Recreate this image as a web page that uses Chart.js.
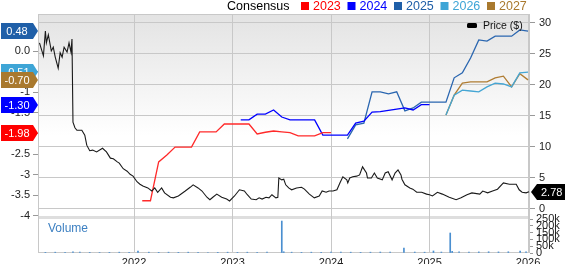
<!DOCTYPE html>
<html>
<head>
<meta charset="utf-8">
<script src="https://cdn.jsdelivr.net/npm/chart.js@4.4.1/dist/chart.umd.min.js"></script>
<style>
  html, body { margin: 0; padding: 0; background: #fff; }
  #wrap { width: 565px; height: 264px; }
</style>
</head>
<body>
<div id="wrap"><canvas id="chart" width="565" height="264"></canvas></div>
<script>
// tick labels
const yearTicks = [2022, 2023, 2024, 2025, 2026];
const epsTicks = [0, -0.5, -1, -1.5, -2, -2.5, -3, -3.5, -4];
const priceTicks = [0, 5, 10, 15, 20, 25, 30];
const volumeTicks = [0, 50000, 100000, 150000, 200000, 250000];

// consensus EPS estimates, one value per month from the start month
const eps2023Start = '2022-02';
const eps2023 = [-3.63, -3.63, -2.69, -2.52, -2.33, -2.33, -2.33, -1.96, -1.96, -1.96, -1.77, -1.77,
  -1.77, -1.77, -2.01, -1.97, -1.94, -1.96, -1.98, -2.06, -2.06, -2.06, -1.98, -1.98];
const eps2024Start = '2023-02';
const eps2024 = [-1.67, -1.67, -1.53, -1.53, -1.43, -1.60, -1.67, -1.67, -1.67, -1.67, -2.04, -2.04,
  -2.04, -2.04, -1.75, -1.70, -1.48, -1.47, -1.44, -1.41, -1.38, -1.43, -1.30, -1.30];
const eps2025Start = '2024-03';
const eps2025 = [-2.13, -1.79, -1.75, -0.99, -0.99, -1.04, -0.99, -1.45, -1.38, -1.24, -1.24, -1.24,
  -1.24, -0.65, -0.53, -0.17, 0.27, 0.24, 0.36, 0.36, 0.36, 0.51, 0.48];
const eps2026Start = '2025-03';
const eps2026 = [-1.55, -1.07, -0.95, -0.97, -0.99, -0.87, -0.78, -0.80, -0.87, -0.53, -0.51];
const eps2027Start = '2025-03';
const eps2027 = [-1.55, -1.07, -0.78, -0.75, -0.75, -0.75, -0.65, -0.61, -0.87, -0.55, -0.70];

// share price ($), time in decimal years
const priceTimes = [2021.04, 2021.08, 2021.10, 2021.11, 2021.13, 2021.16, 2021.18, 2021.20, 2021.23, 2021.25,
  2021.27, 2021.29, 2021.32, 2021.34, 2021.36, 2021.37, 2021.38, 2021.40, 2021.42, 2021.47,
  2021.50, 2021.52, 2021.55, 2021.58, 2021.62, 2021.68, 2021.72, 2021.76, 2021.79, 2021.83,
  2021.85, 2021.89, 2021.93, 2021.96, 2021.99, 2022.03, 2022.06, 2022.09, 2022.14, 2022.18,
  2022.21, 2022.24, 2022.28, 2022.31, 2022.37, 2022.40, 2022.45, 2022.52, 2022.57, 2022.60,
  2022.65, 2022.69, 2022.74, 2022.77, 2022.80, 2022.84, 2022.89, 2022.94, 2022.97, 2023.02,
  2023.07, 2023.12, 2023.15, 2023.19, 2023.24, 2023.27, 2023.30, 2023.34, 2023.37, 2023.40,
  2023.44, 2023.46, 2023.47, 2023.50, 2023.52, 2023.54, 2023.57, 2023.60, 2023.65, 2023.70,
  2023.73, 2023.78, 2023.83, 2023.88, 2023.91, 2023.95, 2023.98, 2024.02, 2024.06, 2024.09,
  2024.12, 2024.16, 2024.17, 2024.19, 2024.22, 2024.26, 2024.29, 2024.32, 2024.36, 2024.37,
  2024.41, 2024.44, 2024.47, 2024.52, 2024.55, 2024.58, 2024.62, 2024.65, 2024.68, 2024.71,
  2024.72, 2024.75, 2024.80, 2024.83, 2024.87, 2024.92, 2024.97, 2025.00, 2025.03, 2025.08,
  2025.13, 2025.20, 2025.27, 2025.32, 2025.38, 2025.43, 2025.51, 2025.54, 2025.59, 2025.64,
  2025.69, 2025.75, 2025.81, 2025.88, 2025.91, 2025.94, 2025.98, 2026.01];
const priceValues = [26.8, 24.7, 28.7, 26.8, 28.1, 25.5, 26.1, 24.5, 22.7, 25.2,
  24.5, 26.1, 25.3, 26.8, 25.3, 27.4, 14.0, 13.1, 12.7, 12.7,
  11.9, 10.3, 9.4, 9.5, 9.2, 9.8, 9.2, 8.2, 8.1, 7.6,
  7.4, 6.5, 6.1, 5.6, 5.3, 4.4, 4.0, 3.7, 3.4, 2.9,
  3.4, 2.7, 3.4, 2.6, 1.9, 1.8, 2.1, 2.9, 3.5, 3.9,
  3.4, 2.9, 1.9, 1.5, 1.9, 2.4, 1.9, 1.6, 1.3, 2.1,
  3.1, 2.9, 2.3, 1.6, 1.5, 1.8, 1.6, 1.9, 1.8, 2.3,
  1.8, 1.9, 5.0, 4.7, 4.8, 3.9, 3.4, 3.1, 3.4, 3.5,
  3.2, 2.4, 1.8, 2.1, 2.9, 2.7, 2.9, 2.9, 3.1, 4.2,
  5.2, 4.7, 4.2, 5.0, 5.2, 5.3, 5.5, 6.8, 5.8, 5.0,
  5.0, 5.8, 5.0, 4.7, 5.8, 6.0, 4.7, 5.8, 6.3, 5.5,
  4.8, 3.9, 3.4, 3.2, 2.7, 2.7, 2.4, 2.3, 2.1, 2.7,
  2.4, 1.9, 1.5, 1.8, 2.3, 2.6, 2.4, 2.9, 2.6, 2.9,
  3.2, 4.2, 4.0, 4.0, 3.1, 2.7, 2.6, 2.78];

// traded volume (shares)
const volumeTimes = [2021.10, 2021.20, 2021.30, 2021.38, 2021.45, 2021.55, 2021.65, 2021.75, 2021.85, 2021.95,
  2022.04, 2022.15, 2022.25, 2022.35, 2022.45, 2022.55, 2022.65, 2022.75, 2022.85, 2022.95,
  2023.05, 2023.15, 2023.25, 2023.35, 2023.50, 2023.52, 2023.60, 2023.70, 2023.80, 2023.90,
  2024.00, 2024.10, 2024.20, 2024.30, 2024.40, 2024.50, 2024.60, 2024.74, 2024.85, 2024.95,
  2025.04, 2025.12, 2025.21, 2025.23, 2025.30, 2025.40, 2025.50, 2025.60, 2025.70, 2025.80,
  2025.92, 2025.98];
const volumeValues = [5000, 6000, 5000, 9000, 6000, 5000, 4000, 5000, 6000, 5000,
  15000, 6000, 5000, 6000, 5000, 6000, 5000, 4000, 5000, 6000,
  5000, 6000, 5000, 6000, 235000, 9000, 6000, 5000, 6000, 5000,
  6000, 7000, 6000, 5000, 6000, 7000, 6000, 37000, 7000, 6000,
  15000, 7000, 147000, 12000, 8000, 7000, 8000, 9000, 8000, 9000,
  15000, 8000];

const font = '"Liberation Sans", Arial, sans-serif';

function monthSeries(start, values) {
    const [y, m] = start.split('-').map(Number);
    return values.map((v, i) => ({ x: y + (m - 1 + i) / 12, y: v }));
}

const consensus = [
    { label: '2023', start: eps2023Start, values: eps2023, color: '#ff2a2a', badge: '#ff0000' },
    { label: '2024', start: eps2024Start, values: eps2024, color: '#0000ff', badge: '#0000ff' },
    { label: '2025', start: eps2025Start, values: eps2025, color: '#2a66b0', badge: '#1f5fa8' },
    { label: '2026', start: eps2026Start, values: eps2026, color: '#45a6d4', badge: '#3ea5d6' },
    { label: '2027', start: eps2027Start, values: eps2027, color: '#b07d33', badge: '#a9792e' }
];

// panel backgrounds, frame
const panelsPlugin = {
    id: 'panels',
    beforeDraw(chart) {
        const { ctx, chartArea: a } = chart;
        const split = chart.scales.yVol.top;
        const g = ctx.createLinearGradient(0, a.top, 0, split);
        g.addColorStop(0, '#e3e3e3');
        g.addColorStop(0.6, '#ffffff');
        ctx.save();
        ctx.fillStyle = g;
        ctx.fillRect(a.left, a.top, a.right - a.left, split - a.top);
        ctx.fillStyle = '#dedede';
        ctx.fillRect(a.left, split - 1, a.right - a.left, 3);
        ctx.restore();
    },
    beforeDatasetsDraw(chart) {
        const { ctx, chartArea: a } = chart;
        ctx.save();
        ctx.strokeStyle = '#c8c8c8';
        ctx.lineWidth = 1;
        ctx.strokeRect(a.left + 0.5, a.top + 0.5, a.right - a.left - 1, a.bottom - a.top - 1);
        ctx.restore();
    }
};

// value badges, legend, panel label
const labelsPlugin = {
    id: 'labels',
    afterDraw(chart) {
        const { ctx, chartArea: a } = chart;
        const yEps = chart.scales.yEps;
        const yPrice = chart.scales.yPrice;
        ctx.save();
        ctx.font = '11px ' + font;
        ctx.textBaseline = 'middle';

        // left badges: last estimate of each year
        ['2025', '2026', '2027', '2024', '2023'].forEach(lbl => {
            const c = consensus.find(s => s.label === lbl);
            const v = c.values[c.values.length - 1];
            const y = Math.round(yEps.getPixelForValue(v));
            ctx.fillStyle = c.badge;
            ctx.beginPath();
            ctx.moveTo(1, y - 8);
            ctx.lineTo(a.left - 5, y - 8);
            ctx.lineTo(a.left, y);
            ctx.lineTo(a.left - 5, y + 8);
            ctx.lineTo(1, y + 8);
            ctx.closePath();
            ctx.fill();
            ctx.fillStyle = '#fff';
            ctx.textAlign = 'center';
            ctx.fillText(v.toFixed(2), 17, y + 0.5);
        });

        // right badge: last price
        const last = priceValues[priceValues.length - 1];
        const py = Math.round(yPrice.getPixelForValue(last));
        const px = a.right + 1;
        ctx.fillStyle = '#000';
        ctx.beginPath();
        ctx.moveTo(px, py);
        ctx.lineTo(px + 6, py - 8);
        ctx.lineTo(565, py - 8);
        ctx.lineTo(565, py + 8);
        ctx.lineTo(px + 6, py + 8);
        ctx.closePath();
        ctx.fill();
        ctx.fillStyle = '#fff';
        ctx.textAlign = 'left';
        ctx.fillText(last.toFixed(2), px + 10, py + 0.5);

        // top legend
        ctx.textAlign = 'left';
        ctx.fillStyle = '#000';
        ctx.font = '12.5px ' + font;
        ctx.fillText('Consensus', 227, 7);
        let x = 301;
        consensus.forEach(c => {
            ctx.fillStyle = c.badge;
            ctx.fillRect(x, 2, 8, 8);
            ctx.fillText(c.label, x + 12, 7);
            x += 46.5;
        });

        // price legend
        ctx.fillStyle = '#000';
        ctx.beginPath();
        ctx.roundRect(467, 23, 10, 5, 1.5);
        ctx.fill();
        ctx.font = '10.5px ' + font;
        ctx.fillStyle = '#111';
        ctx.fillText('Price ($)', 483, 26);

        // volume panel label
        ctx.fillStyle = '#3d80c2';
        ctx.font = '12px ' + font;
        ctx.fillText('Volume', 48, 229);
        ctx.restore();
    }
};

const datasets = [
    {
        label: 'Price ($)',
        data: priceTimes.map((t, i) => ({ x: t, y: priceValues[i] })),
        yAxisID: 'yPrice',
        borderColor: '#1a1a1a',
        borderWidth: 1.1,
        pointRadius: 0
    },
    ...consensus.map(c => ({
        label: c.label,
        data: monthSeries(c.start, c.values),
        yAxisID: 'yEps',
        borderColor: c.color,
        borderWidth: 1.3,
        pointRadius: 0
    })),
    {
        type: 'bar',
        label: 'Volume',
        data: volumeTimes.map((t, i) => ({ x: t, y: volumeValues[i] })),
        yAxisID: 'yVol',
        backgroundColor: '#4a8fd0',
        barThickness: 1
    }
];

const tickFont = { family: font, size: 11 };

new Chart(document.getElementById('chart'), {
    type: 'line',
    data: { datasets },
    plugins: [panelsPlugin, labelsPlugin],
    options: {
        responsive: false,
        animation: false,
        devicePixelRatio: 1,
        layout: { padding: { top: 14, left: 0, right: 0, bottom: 0 } },
        elements: { line: { tension: 0 } },
        plugins: {
            legend: { display: false },
            tooltip: { enabled: false }
        },
        scales: {
            x: {
                type: 'linear',
                offset: false,
                min: 2021.025,
                max: 2026.02,
                afterBuildTicks: s => { s.ticks = yearTicks.map(v => ({ value: v })); },
                afterFit: s => { s.height = 11; },
                grid: { color: '#c8c8c8', drawTicks: false, offset: false },
                border: { display: false },
                ticks: {
                    padding: 3,
                    color: '#222',
                    font: tickFont,
                    maxRotation: 0,
                    autoSkip: false,
                    callback: v => String(v)
                }
            },
            yEps: {
                position: 'left',
                min: -4.897,
                max: 0.897,
                afterBuildTicks: s => { s.ticks = epsTicks.map(v => ({ value: v })); },
                afterFit: s => { s.width = 38; },
                grid: { drawOnChartArea: false, tickLength: 5, tickColor: '#999' },
                border: { display: false },
                ticks: {
                    padding: 3,
                    color: '#222',
                    autoSkip: false,
                    font: tickFont,
                    callback: v => v === 0 ? '0.0' : String(v)
                }
            },
            yPrice: {
                position: 'right',
                stack: 'right',
                stackWeight: 203,
                min: -8 / 6.2,
                max: 31.45,
                afterBuildTicks: s => { s.ticks = priceTicks.map(v => ({ value: v })); },
                afterFit: s => { s.width = 35; },
                grid: { color: '#c8c8c8', tickLength: 5, tickColor: '#999' },
                border: { display: false },
                ticks: {
                    padding: 4,
                    color: '#222',
                    autoSkip: false,
                    font: tickFont,
                    callback: v => String(v)
                }
            },
            yVol: {
                position: 'right',
                stack: 'right',
                stackWeight: 36,
                min: 0,
                max: 250000 * 36 / 34,
                afterBuildTicks: s => { s.ticks = volumeTicks.map(v => ({ value: v })); },
                afterFit: s => { s.width = 35; },
                grid: { drawOnChartArea: false, tickLength: 3, tickColor: '#999' },
                border: { display: false },
                ticks: {
                    padding: 3,
                    color: '#222',
                    autoSkip: false,
                    font: tickFont,
                    callback: v => v === 0 ? '0' : (v / 1000) + 'k'
                }
            }
        }
    }
});
</script>
</body>
</html>
